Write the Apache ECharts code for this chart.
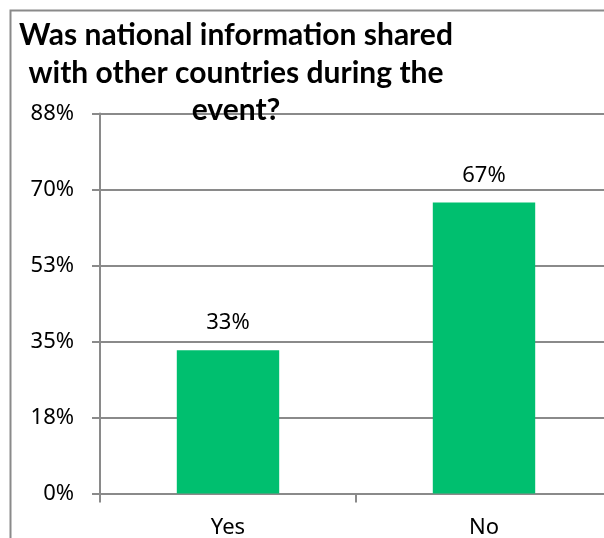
<!DOCTYPE html>
<html>
<head>
<meta charset="utf-8">
<script src="https://cdn.jsdelivr.net/npm/echarts@6/dist/echarts.min.js"></script>
<style>
  html, body { margin: 0; padding: 0; background: #ffffff; overflow: hidden; }
  #chart { width: 604px; height: 538px; }
</style>
</head>
<body>
<div id="chart"></div>
<script>
// Survey answers and their shares (percent)
const categories = ['Yes', 'No'];
const shares = [33, 67];
// Value axis: 0 to 87.5 in steps of 17.5, labels rounded to whole percents
const axisMax = 87.5;
const axisStep = 17.5;
const titleLines = [
  'Was national information shared',
  'with other countries during the',
  'event?'
];

const chart = echarts.init(document.getElementById('chart'), null, { renderer: 'canvas' });

const gray = '#8a8a8a';
const titleFont = 'bold 30px Lato, "Open Sans", sans-serif';
const labelFont = '"Noto Sans", sans-serif';

chart.setOption({
  animation: false,
  backgroundColor: '#ffffff',
  // plot area runs a little past the right edge of the canvas
  grid: {
    left: 100, top: 113.5, width: 512, height: 380,
    containLabel: false,
    outerBoundsMode: 'none'
  },
  xAxis: {
    type: 'category',
    data: categories,
    boundaryGap: true,
    axisLine: { lineStyle: { color: gray, width: 2 } },
    axisTick: { show: true, length: 9, alignWithLabel: false, lineStyle: { color: gray, width: 2 } },
    axisLabel: { color: '#000000', fontFamily: labelFont, fontSize: 22, margin: 23 }
  },
  yAxis: {
    type: 'value',
    min: 0,
    max: axisMax,
    interval: axisStep,
    axisLine: { show: true, lineStyle: { color: gray, width: 2 } },
    axisTick: { show: true, length: 8, lineStyle: { color: gray, width: 2 } },
    splitLine: { show: true, lineStyle: { color: gray, width: 2 } },
    axisLabel: {
      color: '#000000',
      fontFamily: labelFont,
      fontSize: 22,
      margin: 26,
      formatter: v => Math.round(v) + '%'
    }
  },
  series: [{
    type: 'bar',
    data: shares,
    barWidth: '40%',
    itemStyle: { color: '#00bf6f' },
    label: {
      show: true,
      position: 'top',
      distance: 16,
      color: '#000000',
      fontFamily: labelFont,
      fontSize: 22,
      formatter: p => p.value + '%'
    }
  }],
  graphic: [
    {
      // chart frame: top and left edges
      type: 'polyline',
      silent: true,
      z: 0,
      shape: { points: [[10.5, 540], [10.5, 10.5], [604, 10.5]] },
      style: { fill: null, stroke: gray, lineWidth: 2 }
    },
    ...titleLines.map((t, i) => ({
      type: 'text',
      silent: true,
      z: 10,
      x: 236,
      y: [35, 73, 110][i],
      style: {
        text: t,
        font: titleFont,
        fill: '#000000',
        align: 'center',
        verticalAlign: 'middle'
      }
    }))
  ]
});
</script>
</body>
</html>
